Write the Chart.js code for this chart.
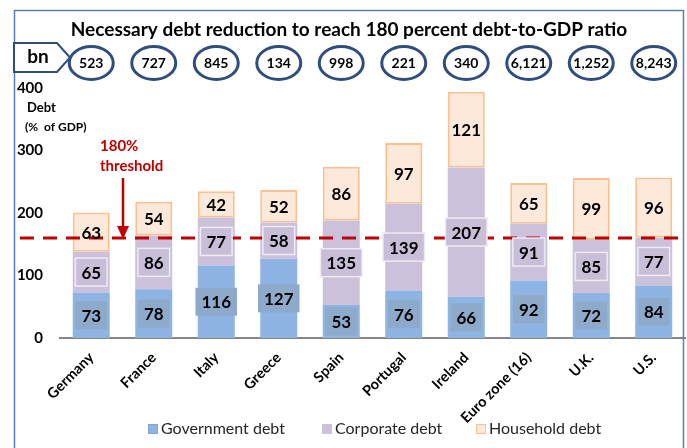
<!DOCTYPE html>
<html>
<head>
<meta charset="utf-8">
<script src="https://cdn.jsdelivr.net/npm/chart.js@4.4.0/dist/chart.umd.min.js"></script>
<style>
  html, body { margin: 0; padding: 0; background: #fff; }
  #wrap { width: 687px; height: 448px; }
</style>
</head>
<body>
<div id="wrap"><canvas id="debtChart" width="687" height="448"></canvas></div>
<script>
(function() {
    'use strict';

    const countries = ['Germany', 'France', 'Italy', 'Greece', 'Spain', 'Portugal', 'Ireland', 'Euro zone (16)', 'U.K.', 'U.S.'];
    const govDebt = [73, 78, 116, 127, 53, 76, 66, 92, 72, 84];
    const corpDebt = [65, 86, 77, 58, 135, 139, 207, 91, 85, 77];
    const houseDebt = [63, 54, 42, 52, 86, 97, 121, 65, 99, 96];
    const reductionBn = ['523', '727', '845', '134', '998', '221', '340', '6,121', '1,252', '8,243'];
    const yTicks = [0, 100, 200, 300, 400];
    const thresholdLine = 160;

    const FONT = 'Lato, "Open Sans", sans-serif';
    const RED = '#c00000';
    const NAVY = '#2f4d7d';

    // labels inside the bars, with the little boxes behind them
    const segmentLabels = {
        id: 'segmentLabels',
        afterDatasetsDraw(chart) {
            const ctx = chart.ctx;
            const y = chart.scales.y;

            // dashed threshold line
            const ty = y.getPixelForValue(thresholdLine);
            ctx.save();
            ctx.strokeStyle = RED;
            ctx.lineWidth = 3;
            ctx.setLineDash([14, 9]);
            ctx.beginPath();
            ctx.moveTo(20, ty);
            ctx.lineTo(683, ty);
            ctx.stroke();
            ctx.restore();

            const boxStyle = [
                { fill: '#8eaacb', stroke: null },
                { fill: '#c8bed8', stroke: '#eeebf3' },
                null
            ];
            ctx.save();
            ctx.font = 'bold 17px ' + FONT;
            ctx.textAlign = 'center';
            ctx.textBaseline = 'middle';
            chart.data.datasets.forEach((ds, di) => {
                const meta = chart.getDatasetMeta(di);
                meta.data.forEach((bar, i) => {
                    const txt = String(ds.data[i]);
                    const cx = bar.x;
                    const cy = (bar.y + bar.base) / 2;
                    const st = boxStyle[di];
                    if (st) {
                        const w = ctx.measureText(txt).width + 12;
                        const h = 28;
                        ctx.fillStyle = st.fill;
                        ctx.fillRect(cx - w / 2, cy - h / 2, w, h);
                        if (st.stroke) {
                            ctx.strokeStyle = st.stroke;
                            ctx.lineWidth = 1.5;
                            ctx.strokeRect(cx - w / 2, cy - h / 2, w, h);
                        }
                    }
                    ctx.fillStyle = '#000';
                    ctx.fillText(txt, cx, cy + 1);
                });
            });
            ctx.restore();
        }
    };

    // frame, title, bn ellipses, axis caption, threshold note and legend
    const decorations = {
        id: 'decorations',
        beforeDraw(chart) {
            const ctx = chart.ctx;
            ctx.save();
            ctx.fillStyle = '#fff';
            ctx.fillRect(0, 0, chart.width, chart.height);
            ctx.restore();
        },
        afterDraw(chart) {
            const ctx = chart.ctx;
            const x = chart.scales.x;
            ctx.save();

            // outer frame
            ctx.strokeStyle = '#5b7fb5';
            ctx.lineWidth = 1.5;
            ctx.strokeRect(14.5, 10.5, 669, 460);

            // title
            ctx.fillStyle = '#000';
            ctx.font = 'bold 19px ' + FONT;
            ctx.textAlign = 'center';
            ctx.textBaseline = 'middle';
            ctx.fillText('Necessary debt reduction to reach 180 percent debt-to-GDP ratio', 349, 30);

            // "bn" tag
            ctx.strokeStyle = NAVY;
            ctx.lineWidth = 2;
            ctx.fillStyle = '#fff';
            ctx.beginPath();
            ctx.moveTo(14, 43);
            ctx.lineTo(57, 43);
            ctx.lineTo(70, 57.5);
            ctx.lineTo(57, 72);
            ctx.lineTo(14, 72);
            ctx.closePath();
            ctx.fill();
            ctx.stroke();
            ctx.fillStyle = '#000';
            ctx.font = 'bold 19px ' + FONT;
            ctx.fillText('bn', 38, 57);

            // ellipses with the amounts in bn
            ctx.font = 'bold 14px ' + FONT;
            ctx.lineWidth = 3;
            reductionBn.forEach((v, i) => {
                const cx = x.getPixelForValue(i);
                ctx.beginPath();
                ctx.ellipse(cx, 63, 22, 16.5, 0, 0, Math.PI * 2);
                ctx.strokeStyle = NAVY;
                ctx.stroke();
                ctx.fillStyle = '#000';
                ctx.fillText(v, cx, 63);
            });

            // y axis caption
            ctx.textAlign = 'left';
            ctx.font = 'bold 13px ' + FONT;
            ctx.fillText('Debt', 27, 108);
            ctx.font = 'bold 12px ' + FONT;
            ctx.fillText('(%  of GDP)', 25, 127);

            // threshold note + arrow
            ctx.fillStyle = RED;
            ctx.font = 'bold 15px ' + FONT;
            ctx.fillText('180%', 100, 146);
            ctx.fillText('threshold', 100, 166);
            ctx.strokeStyle = RED;
            ctx.lineWidth = 2.5;
            ctx.beginPath();
            ctx.moveTo(123, 178);
            ctx.lineTo(123, 228);
            ctx.stroke();
            ctx.beginPath();
            ctx.moveTo(117, 226);
            ctx.lineTo(129, 226);
            ctx.lineTo(123, 239);
            ctx.closePath();
            ctx.fill();

            // legend
            const legendX = [148, 322, 476];
            const ly = 429;
            ctx.font = '16px ' + FONT;
            ctx.textBaseline = 'middle';
            chart.data.datasets.forEach((ds, i) => {
                const lx = legendX[i];
                ctx.fillStyle = ds.backgroundColor;
                ctx.fillRect(lx, ly - 5, 10, 10);
                if (ds.legendBorder) {
                    ctx.strokeStyle = ds.legendBorder;
                    ctx.lineWidth = 1;
                    ctx.setLineDash(i === 0 ? [1, 1] : []);
                    ctx.strokeRect(lx + 0.5, ly - 4.5, 9, 9);
                    ctx.setLineDash([]);
                }
                ctx.fillStyle = '#262626';
                ctx.fillText(ds.label, lx + 13, ly);
            });

            ctx.restore();
        }
    };

    function initChart() {
        const ctx = document.getElementById('debtChart').getContext('2d');
        new Chart(ctx, {
            type: 'bar',
            data: {
                labels: countries,
                datasets: [
                    { label: 'Government debt', data: govDebt, backgroundColor: '#8db4e2', borderWidth: 0, legendBorder: '#6f97c8' },
                    { label: 'Corporate debt', data: corpDebt, backgroundColor: '#ccc1da', borderWidth: 0 },
                    { label: 'Household debt', data: houseDebt, backgroundColor: '#fde9d9', borderColor: '#fac090', borderWidth: 2, borderSkipped: false, legendBorder: '#fac090' }
                ]
            },
            options: {
                responsive: false,
                animation: false,
                categoryPercentage: 0.8,
                barPercentage: 0.74,
                layout: { padding: { top: 88, right: 2, left: 0, bottom: 0 } },
                plugins: {
                    title: { display: false },
                    tooltip: { enabled: false },
                    legend: { display: false }
                },
                scales: {
                    x: {
                        stacked: true,
                        grid: { display: false },
                        border: { color: '#868686', width: 2 },
                        ticks: {
                            color: '#000',
                            font: { family: FONT, size: 14.5, weight: 'bold' },
                            minRotation: 45,
                            maxRotation: 45,
                            padding: 3
                        },
                        afterFit(scale) { scale.height = 110; }
                    },
                    y: {
                        stacked: true,
                        min: 0,
                        max: 400,
                        grid: { display: false },
                        border: { display: false },
                        afterBuildTicks(scale) { scale.ticks = yTicks.map(v => ({ value: v })); },
                        ticks: {
                            color: '#000',
                            padding: 9,
                            font: { family: FONT, size: 15, weight: 'bold' }
                        },
                        afterFit(scale) { scale.width = 60; }
                    }
                }
            },
            plugins: [segmentLabels, decorations]
        });
    }

    if (document.readyState === 'loading') {
        document.addEventListener('DOMContentLoaded', initChart);
    } else {
        initChart();
    }
})();
</script>
</body>
</html>
